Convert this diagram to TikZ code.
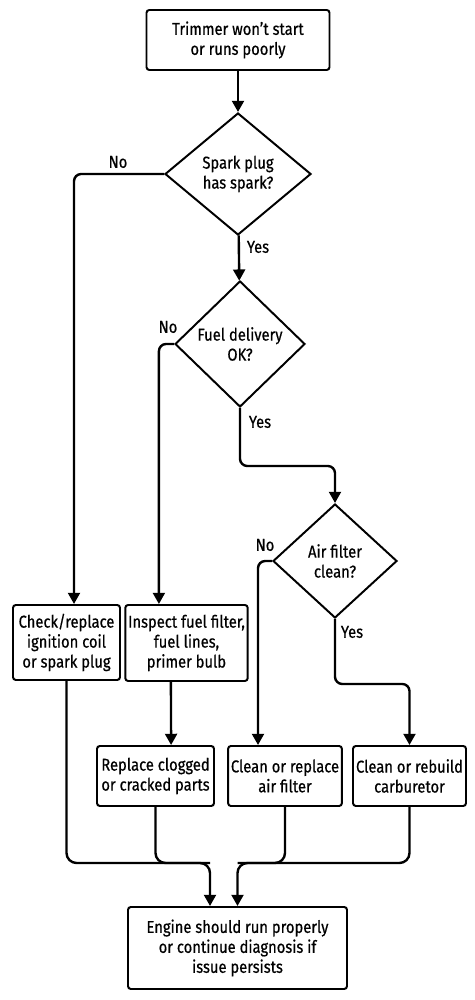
\documentclass[tikz,border=0pt]{standalone}
\usepackage{fontspec}
\setmainfont{Fira Sans}[FakeStretch=0.86,FakeBold=0.6]
\usepackage{tikz}
\usetikzlibrary{shapes.geometric,arrows.meta}

\begin{document}
\begin{tikzpicture}[
    font=\fontsize{12.2}{14.2}\selectfont,
    box/.style={shape=rectangle,draw=black,line width=1.4pt,rounded corners=2pt,align=center,inner sep=2pt},
    decision/.style={shape=diamond,draw=black,line width=1.4pt,align=center,inner sep=0pt,aspect=1},
    line/.style={draw=black,line width=1.7pt,rounded corners=0.18cm},
    flow/.style={line,-{Triangle[length=8pt,width=8.5pt]}},
    answer/.style={inner sep=0pt}
  ]
    \useasboundingbox (0,0) rectangle (11.85,25);

    \node[box,minimum width=4.575cm,minimum height=1.5cm] (start) at (5.95,24.0) {Trimmer won't start\\or runs poorly};
    \node[decision,minimum width=3.65cm,minimum height=3.05cm] (spark) at (5.95,20.65) {Spark plug\\has spark?};
    \node[decision,minimum width=3.25cm,minimum height=3.15cm] (fuel) at (6.0,16.4) {Fuel delivery\\OK?};
    \node[decision,minimum width=3.1cm,minimum height=2.85cm] (air) at (8.375,10.975) {Air filter\\clean?};

    \node[box,minimum width=2.675cm,minimum height=1.875cm] (coil) at (1.6625,8.9375) {Check/replace\\ignition coil\\or spark plug};
    \node[box,minimum width=2.775cm,minimum height=1.9cm] (inspect) at (4.6625,8.925) {Inspect fuel filter,\\fuel lines,\\primer bulb};
    \node[box,minimum width=2.925cm,minimum height=1.5cm] (parts) at (3.8875,5.6) {Replace clogged\\or cracked parts};
    \node[box,minimum width=2.8cm,minimum height=1.5cm] (airf) at (7.125,5.6) {Clean or replace\\air filter};
    \node[box,minimum width=2.825cm,minimum height=1.5cm] (carb) at (10.2375,5.6) {Clean or rebuild\\carburetor};
    \node[box,minimum width=5.475cm,minimum height=2.05cm] (done) at (5.9375,1.3) {Engine should run properly\\or continue diagnosis if\\issue persists};

    \node[answer] (no1) at (2.95,20.95) {No};
    \node[answer] (yes1) at (6.45,18.825) {Yes};
    \node[answer] (no2) at (4.2,16.825) {No};
    \node[answer] (yes2) at (6.5,14.45) {Yes};
    \node[answer] (no3) at (6.625,11.375) {No};
    \node[answer] (yes3) at (8.8,9.2) {Yes};

    \coordinate (joinL) at (5.25,3.425);
    \coordinate (joinR) at (5.9375,3.425);

    \path[flow] (start) edge (spark);
    \path[flow] (spark) edge (fuel);

    \draw[flow] (spark.west) -| ([xshift=0.1875cm]coil.north);
    \draw[flow] (fuel.west) -| ([xshift=-0.69cm]inspect.north);
    \draw[flow] (fuel.south) -- ++(0,-1.45) -| (air.north);
    \draw[flow] (air.west) -| ([xshift=-0.675cm]airf.north);
    \draw[flow] (air.south) -- ++(0,-1.625) -| (carb.north);
    \draw[flow] ([xshift=-0.39cm]inspect.south) -- ([xshift=0.39cm]parts.north);

    % merge into the last box
    \draw[flow,rounded corners=0.25cm] (coil.south) |- (joinL) -- ([xshift=-0.6875cm]done.north);
    \draw[line,rounded corners=0.25cm] (parts.south) |- (joinL);
    \draw[flow,rounded corners=0.25cm] (carb.south) |- (joinR) -- (done.north);
    \draw[line,rounded corners=0.25cm] (airf.south) |- (joinR);

\end{tikzpicture}
\end{document}
